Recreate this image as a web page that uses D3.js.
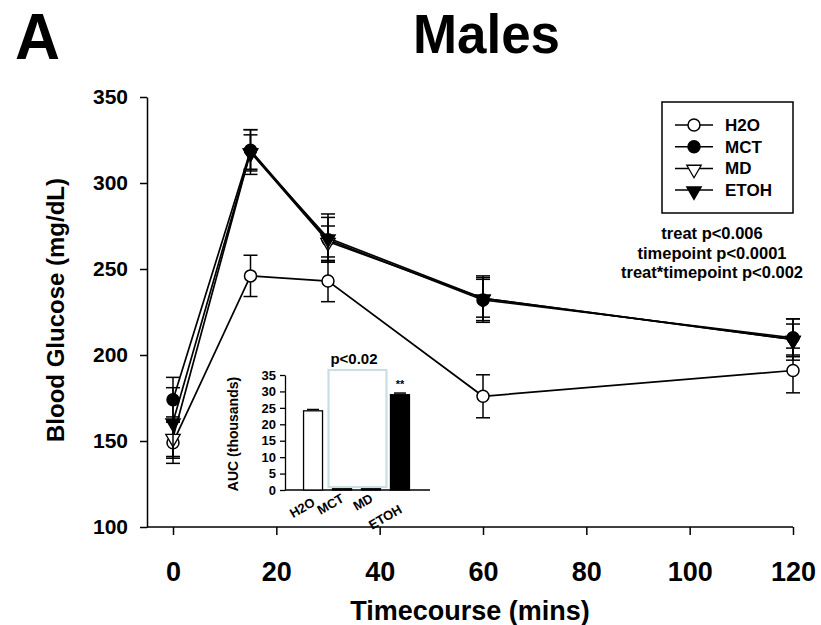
<!DOCTYPE html>
<html>
<head>
<meta charset="utf-8">
<script src="https://cdn.jsdelivr.net/npm/d3@7"></script>
<style>
  body { margin: 0; background: #fff; }
  svg text { font-family: "Liberation Sans", Arial, sans-serif; font-weight: bold; }
</style>
</head>
<body>
<svg id="chart" width="821" height="625"></svg>
<script>
// blood glucose timecourse, males
const times = [0, 15, 30, 60, 120];
const seriesNames = ["H2O", "MCT", "MD", "ETOH"];
const h2o = [149, 246, 243, 176, 191];
const h2oErr = [12, 12, 12, 12.5, 13];
const mct = [174, 319, 267, 232, 210];
const mctErr = [13, 12, 13, 13, 11];
const md = [152, 318, 266, 233, 209];
const mdErr = [12, 10, 9, 11, 9];
const etoh = [161, 318, 268, 233, 209];
const etohErr = [20, 13, 14, 13, 12];
const xTicks = [0, 20, 40, 60, 80, 100, 120];
const yTicks = [100, 150, 200, 250, 300, 350];
const statLines = ["treat p<0.006", "timepoint p<0.0001", "treat*timepoint p<0.002"];

// inset: AUC bars
const aucCats = ["H2O", "MCT", "MD", "ETOH"];
const aucVals = [24.1, 0.6, 0.6, 29.0];
const aucErr = [0.4, 0, 0, 0.5];
const aucTicks = [0, 5, 10, 15, 20, 25, 30, 35];

const svg = d3.select("#chart");

const x = d3.scaleLinear().domain([0, 120]).range([173, 793]);
const y = d3.scaleLinear().domain([100, 350]).range([527, 97]);

// titles
const titleFont = "'Liberation Sans Narrow', 'Arial Narrow', 'Liberation Sans', sans-serif";
svg.append("text").attr("x", 15).attr("y", 59)
  .style("font-family", titleFont).style("font-size", "64px")
  .attr("textLength", 45).attr("lengthAdjust", "spacingAndGlyphs")
  .text("A");
svg.append("text").attr("x", 413).attr("y", 53)
  .style("font-family", titleFont).style("font-size", "55px")
  .attr("textLength", 147).attr("lengthAdjust", "spacingAndGlyphs")
  .text("Males");

// y axis
const yAxis = svg.append("g").attr("transform", "translate(147,0)")
  .call(d3.axisLeft(y).tickValues(yTicks).tickSize(7).tickSizeOuter(0).tickPadding(12));
yAxis.selectAll("text").style("font-size", "21px").attr("fill", "#000");
yAxis.selectAll("line, path").attr("stroke", "#000").attr("stroke-width", 1.5);

// x axis
const xAxis = svg.append("g").attr("transform", "translate(0,527)")
  .call(d3.axisBottom(x).tickValues(xTicks).tickSize(8).tickSizeOuter(0).tickPadding(27));
xAxis.select(".domain").remove();
xAxis.selectAll("line").attr("stroke", "#000").attr("stroke-width", 1.5);
xAxis.selectAll("text")
  .style("font-family", "'Liberation Sans Narrow', 'Arial Narrow', sans-serif")
  .style("font-size", "27px").attr("fill", "#000");
svg.append("line").attr("x1", 147).attr("x2", x(120)).attr("y1", 527).attr("y2", 527)
  .attr("stroke", "#000").attr("stroke-width", 1.5);

// axis titles
svg.append("text").attr("x", 470).attr("y", 620).attr("text-anchor", "middle")
  .style("font-family", "'Liberation Sans Narrow', 'Arial Narrow', sans-serif")
  .style("font-size", "27px").text("Timecourse (mins)");
svg.append("text").attr("transform", "translate(64,310) rotate(-90)")
  .attr("text-anchor", "middle").style("font-size", "24px")
  .text("Blood Glucose (mg/dL)");

// series
const series = [
  { name: "H2O", vals: h2o, err: h2oErr, shape: "circle", fill: "#fff" },
  { name: "MCT", vals: mct, err: mctErr, shape: "circle", fill: "#000" },
  { name: "MD", vals: md, err: mdErr, shape: "tri", fill: "#fff" },
  { name: "ETOH", vals: etoh, err: etohErr, shape: "tri", fill: "#000" }
];

const line = d3.line().x(d => x(d.t)).y(d => y(d.v));

function marker(g, s, cx, cy) {
  if (s.shape === "circle") {
    g.append("circle").attr("cx", cx).attr("cy", cy).attr("r", 6)
      .attr("fill", s.fill).attr("stroke", "#000").attr("stroke-width", 1.5);
  } else {
    g.append("path")
      .attr("d", d3.symbol().type(d3.symbolTriangle).size(90)())
      .attr("transform", `translate(${cx},${cy + 1}) rotate(180)`)
      .attr("fill", s.fill).attr("stroke", "#000").attr("stroke-width", 1.3);
  }
}

series.forEach(s => {
  const pts = times.map((t, i) => ({ t: t, v: s.vals[i], e: s.err[i] }));
  const g = svg.append("g");
  // error bars
  pts.forEach(p => {
    const cx = x(p.t);
    g.append("line").attr("x1", cx).attr("x2", cx)
      .attr("y1", y(p.v - p.e)).attr("y2", y(p.v + p.e))
      .attr("stroke", "#000").attr("stroke-width", 1.5);
    [p.v - p.e, p.v + p.e].forEach(v => {
      g.append("line").attr("x1", cx - 7).attr("x2", cx + 7)
        .attr("y1", y(v)).attr("y2", y(v))
        .attr("stroke", "#000").attr("stroke-width", 1.5);
    });
  });
  g.append("path").datum(pts).attr("d", line)
    .attr("fill", "none").attr("stroke", "#000").attr("stroke-width", 1.7);
  pts.forEach(p => marker(g, s, x(p.t), y(p.v)));
});

// legend
const lg = svg.append("g");
lg.append("rect").attr("x", 662).attr("y", 102).attr("width", 131).attr("height", 111)
  .attr("fill", "#fff").attr("stroke", "#000").attr("stroke-width", 1.5);
series.forEach((s, i) => {
  const ly = 125 + i * 21.7;
  lg.append("line").attr("x1", 675).attr("x2", 713).attr("y1", ly).attr("y2", ly)
    .attr("stroke", "#000").attr("stroke-width", 1.5);
  marker(lg, s, 694, ly);
  lg.append("text").attr("x", 725).attr("y", ly + 6).style("font-size", "17px").text(s.name);
});

// stats text
statLines.forEach((t, i) => {
  svg.append("text").attr("x", 712).attr("y", 239 + i * 19.5)
    .attr("text-anchor", "middle").style("font-size", "16.5px").text(t);
});

// inset bar chart
const ix = d3.scaleBand().domain(aucCats).range([285, 428])
  .paddingInner(0.345).paddingOuter(0.64);
const iy = d3.scaleLinear().domain([0, 35]).range([490, 375]);

const inset = svg.append("g");
const iyAxis = inset.append("g").attr("transform", "translate(285,0)")
  .call(d3.axisLeft(iy).tickValues(aucTicks).tickSize(5).tickSizeOuter(0).tickPadding(4));
iyAxis.selectAll("text").style("font-size", "13px").attr("fill", "#000");
iyAxis.selectAll("line, path").attr("stroke", "#000").attr("stroke-width", 1.3);
inset.append("line").attr("x1", 285).attr("x2", 430).attr("y1", 490).attr("y2", 490)
  .attr("stroke", "#000").attr("stroke-width", 1.3);

inset.selectAll("rect.bar").data(aucCats).enter().append("rect")
  .attr("class", "bar")
  .attr("x", d => ix(d)).attr("width", ix.bandwidth())
  .attr("y", (d, i) => iy(aucVals[i]))
  .attr("height", (d, i) => iy(0) - iy(aucVals[i]))
  .attr("fill", (d, i) => i === 0 ? "#fff" : "#000")
  .attr("stroke", "#000").attr("stroke-width", 1.3);

aucCats.forEach((c, i) => {
  if (!aucErr[i]) return;
  const cx = ix(c) + ix.bandwidth() / 2;
  inset.append("line").attr("x1", cx - 6).attr("x2", cx + 6)
    .attr("y1", iy(aucVals[i] + aucErr[i])).attr("y2", iy(aucVals[i] + aucErr[i]))
    .attr("stroke", "#000").attr("stroke-width", 1.5);
});

// ** marker above ETOH
inset.append("text").attr("x", ix("ETOH") + ix.bandwidth() / 2).attr("y", 388)
  .attr("text-anchor", "middle").style("font-size", "11px").text("**");

// highlight box over MCT / MD
inset.append("rect")
  .attr("x", ix("MCT") - 4).attr("y", 370)
  .attr("width", ix("MD") + ix.bandwidth() - ix("MCT") + 10).attr("height", 117)
  .attr("fill", "none").attr("stroke", "#c9dfe3").attr("stroke-width", 2.2);

inset.append("text").attr("x", 354).attr("y", 364).attr("text-anchor", "middle")
  .style("font-size", "15px").text("p<0.02");

// category labels
aucCats.forEach((c, i) => {
  const cx = ix(c) + ix.bandwidth() / 2 + 3;
  const cy = (c === "ETOH") ? 512 : (c === "H2O" ? 505 : 501);
  inset.append("text").attr("transform", `translate(${cx},${cy}) rotate(-30)`)
    .attr("text-anchor", "end").style("font-size", "13px").text(c);
});

inset.append("text").attr("transform", "translate(238,434) rotate(-90)")
  .attr("text-anchor", "middle").style("font-size", "14px").text("AUC (thousands)");
</script>
</body>
</html>
